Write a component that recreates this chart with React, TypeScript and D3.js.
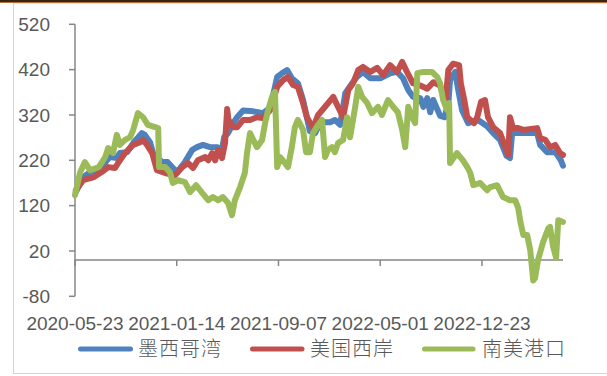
import React from "react";
import * as d3 from "d3";

// Freight rate series: [date, value]
const gulfOfMexico: [string, number][] = [
  ["2020-05-25", 150], ["2020-06-11", 183], ["2020-06-27", 194], ["2020-07-20", 198],
  ["2020-08-05", 220], ["2020-08-12", 227], ["2020-08-28", 225], ["2020-09-04", 236],
  ["2020-09-21", 238], ["2020-10-05", 258], ["2020-10-25", 280], ["2020-11-01", 276],
  ["2020-11-13", 260], ["2020-11-20", 236], ["2020-12-11", 216], ["2020-12-24", 216],
  ["2021-01-05", 203], ["2021-01-15", 194], ["2021-02-02", 216], ["2021-02-19", 243],
  ["2021-03-02", 249], ["2021-03-16", 254], ["2021-04-01", 249], ["2021-04-18", 249],
  ["2021-04-29", 243], ["2021-05-04", 271], ["2021-05-13", 280], ["2021-05-25", 302],
  ["2021-06-03", 315], ["2021-06-17", 330], ["2021-07-10", 328], ["2021-08-02", 324],
  ["2021-08-19", 336], ["2021-09-04", 404], ["2021-09-15", 412], ["2021-09-27", 419],
  ["2021-10-08", 401], ["2021-10-22", 390], ["2021-11-03", 353], ["2021-11-19", 284],
  ["2021-12-01", 280], ["2021-12-13", 304], ["2022-01-05", 304], ["2022-01-16", 309],
  ["2022-01-28", 298], ["2022-02-09", 368], ["2022-02-25", 390], ["2022-03-08", 404],
  ["2022-03-22", 415], ["2022-04-08", 401], ["2022-05-01", 401], ["2022-05-24", 412],
  ["2022-06-09", 415], ["2022-06-23", 401], ["2022-07-05", 375], ["2022-07-16", 360],
  ["2022-08-02", 357], ["2022-08-09", 338], ["2022-08-18", 357], ["2022-08-25", 326],
  ["2022-09-01", 353], ["2022-09-17", 318], ["2022-09-27", 315], ["2022-10-06", 345],
  ["2022-10-10", 397], ["2022-10-22", 415], ["2022-10-29", 375], ["2022-11-07", 330],
  ["2022-11-21", 302], ["2022-12-14", 309], ["2023-01-04", 295], ["2023-01-18", 280],
  ["2023-02-03", 265], ["2023-02-18", 230], ["2023-02-26", 225], ["2023-03-03", 280],
  ["2023-03-29", 280], ["2023-04-30", 280], ["2023-05-07", 254], ["2023-05-23", 238],
  ["2023-06-11", 238], ["2023-06-24", 220], ["2023-06-29", 208],
];

const usWestCoast: [string, number][] = [
  ["2020-05-25", 154], ["2020-06-11", 176], ["2020-07-06", 183], ["2020-07-24", 194],
  ["2020-08-08", 205], ["2020-08-24", 203], ["2020-08-31", 214], ["2020-09-16", 236],
  ["2020-10-05", 254], ["2020-10-21", 260], ["2020-10-28", 265], ["2020-11-06", 254],
  ["2020-11-18", 236], ["2020-11-29", 198], ["2020-12-18", 192], ["2021-01-10", 187],
  ["2021-01-27", 205], ["2021-02-09", 214], ["2021-02-21", 203], ["2021-03-04", 220],
  ["2021-03-21", 227], ["2021-03-28", 220], ["2021-04-06", 236], ["2021-04-13", 220],
  ["2021-04-20", 243], ["2021-04-29", 225], ["2021-05-06", 258], ["2021-05-11", 333],
  ["2021-05-14", 309], ["2021-05-25", 293], ["2021-06-03", 293], ["2021-06-17", 309],
  ["2021-07-03", 309], ["2021-07-19", 315], ["2021-08-02", 313], ["2021-08-19", 331],
  ["2021-09-04", 382], ["2021-09-18", 397], ["2021-09-29", 404], ["2021-10-11", 386],
  ["2021-10-22", 382], ["2021-11-03", 346], ["2021-11-12", 315], ["2021-11-26", 291],
  ["2021-12-08", 320], ["2021-12-24", 338], ["2022-01-12", 360], ["2022-01-23", 338],
  ["2022-02-04", 315], ["2022-02-16", 375], ["2022-02-27", 390], ["2022-03-11", 419],
  ["2022-03-22", 426], ["2022-04-08", 415], ["2022-04-24", 424], ["2022-05-08", 408],
  ["2022-05-24", 430], ["2022-06-09", 415], ["2022-06-21", 437], ["2022-07-02", 415],
  ["2022-07-16", 390], ["2022-08-02", 385], ["2022-08-18", 378], ["2022-09-01", 392],
  ["2022-09-17", 385], ["2022-09-29", 345], ["2022-10-06", 419], ["2022-10-17", 433],
  ["2022-10-31", 430], ["2022-11-04", 390], ["2022-11-12", 353], ["2022-11-19", 315],
  ["2022-12-05", 302], ["2022-12-12", 315], ["2022-12-21", 349], ["2022-12-30", 353],
  ["2023-01-06", 315], ["2023-01-18", 293], ["2023-02-03", 280], ["2023-02-15", 249],
  ["2023-02-22", 232], ["2023-02-26", 315], ["2023-03-05", 291], ["2023-03-17", 291],
  ["2023-03-29", 287], ["2023-04-30", 291], ["2023-05-07", 269], ["2023-05-19", 265],
  ["2023-05-30", 249], ["2023-06-11", 254], ["2023-06-22", 236], ["2023-06-29", 232],
];

const southAmerica: [string, number][] = [
  ["2020-05-23", 143], ["2020-06-04", 194], ["2020-06-15", 216], ["2020-06-27", 198],
  ["2020-07-17", 205], ["2020-08-01", 227], ["2020-08-08", 247], ["2020-08-19", 236],
  ["2020-08-28", 276], ["2020-09-04", 254], ["2020-09-16", 265], ["2020-09-28", 271],
  ["2020-10-05", 287], ["2020-10-16", 324], ["2020-10-28", 315], ["2020-11-08", 298],
  ["2020-11-25", 293], ["2020-12-02", 291], ["2020-12-04", 205], ["2020-12-18", 205],
  ["2020-12-29", 194], ["2021-01-05", 170], ["2021-01-17", 176], ["2021-02-02", 172],
  ["2021-02-14", 150], ["2021-02-28", 165], ["2021-03-14", 148], ["2021-03-28", 132],
  ["2021-04-08", 139], ["2021-04-20", 132], ["2021-05-01", 139], ["2021-05-13", 126],
  ["2021-05-22", 99], ["2021-05-29", 132], ["2021-06-10", 161], ["2021-06-21", 192],
  ["2021-06-26", 236], ["2021-07-03", 280], ["2021-07-19", 249], ["2021-07-31", 265],
  ["2021-08-07", 302], ["2021-08-14", 331], ["2021-08-23", 360], ["2021-08-30", 371],
  ["2021-09-04", 205], ["2021-09-11", 227], ["2021-09-22", 214], ["2021-09-29", 205],
  ["2021-10-08", 249], ["2021-10-15", 293], ["2021-10-22", 309], ["2021-11-03", 287],
  ["2021-11-10", 238], ["2021-11-19", 238], ["2021-11-26", 280], ["2021-12-08", 298],
  ["2021-12-17", 309], ["2021-12-24", 227], ["2021-12-31", 243], ["2022-01-09", 249],
  ["2022-01-16", 238], ["2022-01-23", 258], ["2022-02-04", 265], ["2022-02-13", 315],
  ["2022-02-20", 271], ["2022-03-04", 338], ["2022-03-11", 382], ["2022-03-20", 360],
  ["2022-04-01", 346], ["2022-04-12", 324], ["2022-04-26", 338], ["2022-05-05", 320],
  ["2022-05-19", 353], ["2022-05-31", 338], ["2022-06-11", 326], ["2022-06-21", 287],
  ["2022-06-28", 249], ["2022-07-05", 338], ["2022-07-14", 315], ["2022-07-21", 302],
  ["2022-07-26", 412], ["2022-08-09", 415], ["2022-08-29", 415], ["2022-09-10", 404],
  ["2022-09-17", 390], ["2022-09-24", 353], ["2022-10-03", 331], ["2022-10-08", 346],
  ["2022-10-10", 214], ["2022-10-26", 236], ["2022-11-09", 220], ["2022-11-19", 205],
  ["2022-11-26", 192], ["2022-12-03", 165], ["2022-12-19", 170], ["2023-01-04", 154],
  ["2023-01-11", 161], ["2023-01-27", 165], ["2023-02-10", 139], ["2023-02-26", 132],
  ["2023-03-10", 132], ["2023-03-17", 115], ["2023-03-22", 85], ["2023-03-29", 55],
  ["2023-04-07", 55], ["2023-04-14", 22], ["2023-04-21", -45], ["2023-04-25", -40],
  ["2023-05-02", 0], ["2023-05-14", 40], ["2023-05-26", 70], ["2023-05-30", 73],
  ["2023-06-06", 30], ["2023-06-13", 5], ["2023-06-18", 88], ["2023-06-29", 84],
];

const seriesNames = ["墨西哥湾", "美国西岸", "南美港口"];
const seriesColors = ["#4F81BD", "#C0504D", "#9BBB59"];
const yTicks = [-80, 20, 120, 220, 320, 420, 520];
const xTickLabels = ["2020-05-23", "2021-01-14", "2021-09-07", "2022-05-01", "2022-12-23"];
const dateRange = ["2020-05-23", "2023-06-29"];

const W = 607;
const H = 376;
const parse = d3.timeParse("%Y-%m-%d");
const axisColor = "#868686";
const textColor = "#595959";
const font = "'Liberation Sans', Arial, sans-serif";

export default function App() {
  const x = d3
    .scaleTime()
    .domain(dateRange.map((d) => parse(d) as Date))
    .range([75, 563]);
  const y = d3.scaleLinear().domain([-80, 520]).range([296.3, 24.3]);

  const line = d3
    .line<[string, number]>()
    .x((d) => x(parse(d[0]) as Date))
    .y((d) => y(d[1]))
    .curve(d3.curveLinear);

  const allSeries = [gulfOfMexico, usWestCoast, southAmerica];
  const y0 = y(0);

  const legendItems = [
    { x1: 80.5, x2: 130.5, tx: 138 },
    { x1: 252.5, x2: 302, tx: 310 },
    { x1: 424.5, x2: 473, tx: 482 },
  ];

  return (
    <div style={{ position: "fixed", left: 0, top: 0, width: W, height: H, background: "#fff" }}>
      <svg width={W} height={H} style={{ display: "block" }}>
        <rect x={0} y={0} width={W} height={H} fill="#fff" />
        {/* frame */}
        <rect x={0} y={0} width={W} height={2} fill="#3b2412" />
        <line x1={0} x2={W} y1={2.5} y2={2.5} stroke="#b5743a" strokeWidth={1} />
        <line x1={13} x2={W} y1={3.5} y2={3.5} stroke="#e3e3e3" strokeWidth={1} />
        <line x1={13.5} x2={13.5} y1={3} y2={373} stroke="#d4d4d4" strokeWidth={1} />
        <line x1={13} x2={W} y1={373.5} y2={373.5} stroke="#d4d4d4" strokeWidth={1} />

        {/* y axis */}
        <line x1={75} x2={75} y1={y(520)} y2={y(-80)} stroke={axisColor} strokeWidth={1.5} />
        {yTicks.map((t) => (
          <g key={t}>
            <line x1={69} x2={75} y1={y(t)} y2={y(t)} stroke={axisColor} strokeWidth={1.5} />
            <text
              x={50}
              y={y(t)}
              dy="0.35em"
              textAnchor="end"
              fontFamily={font}
              fontSize={19}
              fill={textColor}
            >
              {t}
            </text>
          </g>
        ))}

        {/* x axis at zero */}
        <line x1={75} x2={563} y1={y0} y2={y0} stroke={axisColor} strokeWidth={1.5} />
        {xTickLabels.map((d) => {
          const px = x(parse(d) as Date);
          return (
            <g key={d}>
              <line x1={px} x2={px} y1={y0} y2={y0 + 6} stroke={axisColor} strokeWidth={1.5} />
              <text
                x={px}
                y={330}
                textAnchor="middle"
                fontFamily={font}
                fontSize={19}
                fill={textColor}
              >
                {d}
              </text>
            </g>
          );
        })}

        {/* series */}
        {allSeries.map((s, i) => (
          <path
            key={seriesNames[i]}
            d={line(s) || ""}
            fill="none"
            stroke={seriesColors[i]}
            strokeWidth={6}
            strokeLinejoin="round"
            strokeLinecap="round"
          />
        ))}

        {/* legend */}
        {legendItems.map((l, i) => (
          <g key={seriesNames[i]}>
            <line
              x1={l.x1}
              x2={l.x2}
              y1={349}
              y2={349}
              stroke={seriesColors[i]}
              strokeWidth={5}
              strokeLinecap="round"
            />
            <text
              x={l.tx}
              y={349}
              dy="0.36em"
              fontFamily="'Noto Sans CJK SC', sans-serif"
              fontSize={20}
              fontWeight={300}
              letterSpacing={1}
              fill={textColor}
            >
              {seriesNames[i]}
            </text>
          </g>
        ))}
      </svg>
    </div>
  );
}
